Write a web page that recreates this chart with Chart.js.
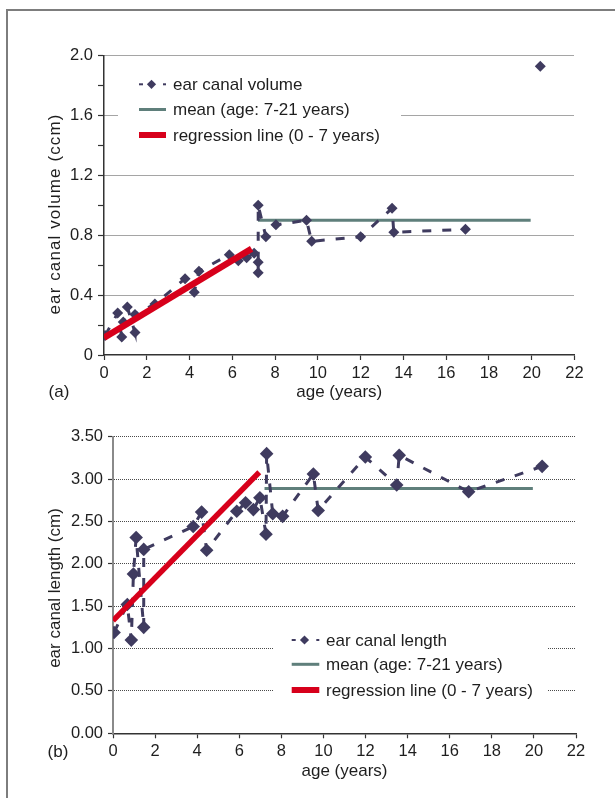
<!DOCTYPE html>
<html><head><meta charset="utf-8">
<script src="https://cdn.jsdelivr.net/npm/chart.js@4"></script>
<style>
html,body{margin:0;padding:0;background:#fff;}
body{width:615px;height:798px;position:relative;overflow:hidden;}
#frame{position:absolute;left:6px;top:8.5px;width:700px;height:900px;border-left:2px solid #7d7d7d;border-top:2px solid #7d7d7d;}
#ca{position:absolute;left:0;top:0;}
#cb{position:absolute;left:0;top:410px;}
</style></head>
<body>
<div id="frame"></div>
<canvas id="ca" width="615" height="405"></canvas>
<canvas id="cb" width="615" height="388"></canvas>
<script>
// ---------- data: chart (a) ear canal volume ----------
const volAge   = [0.05, 0.64, 0.83, 0.90, 1.09, 1.45, 1.45, 2.38, 3.79, 4.22, 4.44, 5.86, 6.28, 6.67, 7.02, 7.21, 7.21, 7.21, 7.57, 8.04, 9.47, 9.71, 12.0, 13.47, 13.55, 16.9];
const volValue = [0.13, 0.28, 0.12, 0.22, 0.32, 0.15, 0.27, 0.34, 0.51, 0.42, 0.56, 0.67, 0.63, 0.65, 0.68, 0.62, 0.55, 1.00, 0.79, 0.87, 0.90, 0.76, 0.79, 0.98, 0.82, 0.84];
const volOutlierAge   = [20.4];
const volOutlierValue = [1.93];
const volMeanAge   = [7.2, 19.95];
const volMeanValue = [0.9, 0.9];
const volRegAge    = [0, 6.9];
const volRegValue  = [0.115, 0.71];

// ---------- data: chart (b) ear canal length ----------
const lenAge   = [0.05, 0.68, 0.87, 0.97, 1.10, 1.46, 1.46, 3.81, 4.21, 4.45, 5.88, 6.30, 6.67, 6.98, 7.27, 7.30, 7.59, 8.06, 9.52, 9.75, 11.99, 13.48, 13.60, 16.9, 20.39];
const lenValue = [1.19, 1.52, 1.10, 1.88, 2.31, 1.25, 2.17, 2.44, 2.61, 2.16, 2.62, 2.72, 2.64, 2.78, 2.35, 3.30, 2.59, 2.56, 3.06, 2.63, 3.26, 2.93, 3.28, 2.85, 3.15];
const lenMeanAge   = [7.2, 19.95];
const lenMeanValue = [2.89, 2.89];
const lenRegAge    = [0, 6.95];
const lenRegValue  = [1.33, 3.08];

// ---------- labels ----------
const xTitle = 'age (years)';
const volTitle = 'ear canal volume (ccm)';
const lenTitle = 'ear canal length (cm)';
const volLabels = ['ear canal volume', 'mean (age: 7-21 years)', 'regression line (0 - 7 years)'];
const lenLabels = ['ear canal length', 'mean (age: 7-21 years)', 'regression line (0 - 7 years)'];
const panelLabels = ['(a)', '(b)'];

const MARK = '#3f3b5f', MEAN = '#5f7f7b', RED = '#d7001b';
const FONT = '"Liberation Sans", Arial, Helvetica, sans-serif';

const pts = (xs, ys) => xs.map((x, i) => ({x: x, y: ys[i]}));

const overlay = {
  id: 'overlay',
  afterDraw(chart, args, o) {
    const ctx = chart.ctx;
    ctx.save();
    ctx.fillStyle = '#fff';
    ctx.fillRect(o.box[0], o.box[1], o.box[2], o.box[3]);
    ctx.font = '17px ' + FONT;
    ctx.fillStyle = '#1e1e1e';
    ctx.textBaseline = 'middle';
    ctx.textAlign = 'left';
    const ds = chart.data.datasets.filter(d => d.legendKind).sort((a, b) => a.legendIndex - b.legendIndex);
    ds.forEach((d, i) => {
      const y = o.rows[i];
      const x0 = o.symX, x1 = o.symX + o.symW;
      if (d.legendKind === 'marker') {
        ctx.strokeStyle = MARK; ctx.lineWidth = 2;
        ctx.beginPath(); ctx.moveTo(x0, y); ctx.lineTo(x0 + 4, y); ctx.stroke();
        ctx.beginPath(); ctx.moveTo(x1 - 3, y); ctx.lineTo(x1, y); ctx.stroke();
        const cx = (x0 + x1) / 2 - 1, r = 4.6;
        ctx.fillStyle = MARK;
        ctx.beginPath(); ctx.moveTo(cx, y - r); ctx.lineTo(cx + r, y); ctx.lineTo(cx, y + r); ctx.lineTo(cx - r, y); ctx.closePath(); ctx.fill();
      } else {
        ctx.strokeStyle = d.borderColor; ctx.lineWidth = d.legendKind === 'red' ? 6 : 3;
        ctx.beginPath(); ctx.moveTo(x0, y); ctx.lineTo(x1, y); ctx.stroke();
      }
      ctx.fillStyle = '#1e1e1e';
      ctx.fillText(d.label, o.textX, y + 1);
    });
    ctx.textAlign = 'center';
    ctx.fillText(o.panel, o.panelX, o.panelY);
    // rotated y-axis title
    ctx.save();
    ctx.translate(o.yTitleX, o.yTitleY);
    ctx.rotate(-Math.PI / 2);
    ctx.font = '17px ' + FONT;
    if ('letterSpacing' in ctx) ctx.letterSpacing = o.yTitleSpacing;
    ctx.textAlign = 'center';
    ctx.textBaseline = 'middle';
    ctx.fillText(o.yTitle, 0, 0);
    ctx.restore();
    ctx.restore();
  }
};

function makeChart(id, cfg) {
  return new Chart(document.getElementById(id), {
    type: 'scatter',
    data: {
      datasets: [
        { label: cfg.labels[2], legendKind: 'red', legendIndex: 2, data: pts(cfg.regAge, cfg.regVal), showLine: true,
          borderColor: RED, borderWidth: cfg.redW, pointRadius: 0, order: 0, borderCapStyle: 'butt' },
        { label: cfg.labels[0], legendKind: 'marker', legendIndex: 0, data: pts(cfg.age, cfg.val), showLine: true,
          borderColor: MARK, borderWidth: 3, borderDash: [9, 11], backgroundColor: MARK,
          pointStyle: 'rectRot', pointRadius: cfg.ptR, pointBorderWidth: 0, pointBackgroundColor: MARK, order: 1, tension: 0 },
        { label: cfg.labels[1], legendKind: 'line', legendIndex: 1, data: pts(cfg.meanAge, cfg.meanVal), showLine: true,
          borderColor: MEAN, borderWidth: 3, pointRadius: 0, order: 2 },
      ].concat(cfg.extra ? [{ label: cfg.labels[0], data: pts(cfg.extra[0], cfg.extra[1]), showLine: false,
          pointStyle: 'rectRot', pointRadius: cfg.ptR, pointBorderWidth: 0, pointBackgroundColor: MARK, order: 1 }] : [])
    },
    options: {
      responsive: false,
      animation: false,
      layout: { padding: cfg.pad },
      plugins: { legend: { display: false }, tooltip: { enabled: false }, overlay: cfg.overlay },
      scales: {
        x: {
          type: 'linear', min: 0, max: 22,
          afterFit: s => { s.height = cfg.xH; },
          ticks: { stepSize: 2, autoSkip: false, maxRotation: 0, padding: cfg.xPad,
                   color: '#1e1e1e', font: { family: FONT, size: 16.5 } },
          grid: { drawOnChartArea: false, drawTicks: true, tickLength: 5, tickColor: '#333', tickWidth: 1.2 },
          border: { color: '#333', width: 1.5 },
          title: { display: true, text: xTitle, color: '#1e1e1e', font: { family: FONT, size: 17 }, padding: { top: 0, bottom: 2 } }
        },
        y: {
          type: 'linear', min: 0, max: cfg.yMax,
          afterFit: s => { s.width = cfg.yW; },
          ticks: { stepSize: cfg.yStep, autoSkip: false, padding: 5, callback: cfg.yLabel,
                   color: '#1e1e1e', font: { family: FONT, size: 16.5 } },
          grid: { drawTicks: true, tickLength: cfg.yTL, tickColor: '#333', tickWidth: 1.2, lineWidth: 1,
                  color: c => (c.tick && cfg.gridOn(c.tick.value)) ? '#4a4a4a' : 'rgba(0,0,0,0)' },
          border: { color: cfg.yBorder, width: cfg.yBorderW, dash: [1, 1] },
          title: { display: false, text: cfg.yTitle }
        }
      }
    },
    plugins: [overlay]
  });
}

makeChart('ca', {
  age: volAge, val: volValue, meanAge: volMeanAge, meanVal: volMeanValue,
  regAge: volRegAge, regVal: volRegValue, extra: [volOutlierAge, volOutlierValue],
  labels: volLabels, yTitle: volTitle, yMax: 2, yStep: 0.2, ptR: 5.5, redW: 6.5,
  yLabel: v => (Math.round(v * 10) % 4 === 0) ? (Math.abs(v) < 1e-9 ? '0' : v.toFixed(1)) : '',
  gridOn: v => v > 0.01 && Math.round(v * 10) % 4 === 0,
  pad: { left: 43, right: 40.5, top: 55.7, bottom: 0 }, yW: 61, xH: 50, xPad: 4, yTL: 6,
  yBorder: '#333', yBorderW: 1.5,
  overlay: { box: [118, 68, 283, 82], rows: [84.3, 109.5, 135], symX: 139, symW: 27, textX: 173,
             panel: panelLabels[0], panelX: 59, panelY: 392.5,
             yTitle: volTitle, yTitleX: 55.5, yTitleY: 214, yTitleSpacing: '1.1px' }
});

makeChart('cb', {
  age: lenAge, val: lenValue, meanAge: lenMeanAge, meanVal: lenMeanValue,
  regAge: lenRegAge, regVal: lenRegValue, extra: null,
  labels: lenLabels, yTitle: lenTitle, yMax: 3.5, yStep: 0.5, ptR: 6.8, redW: 5.5,
  yLabel: v => v.toFixed(2),
  gridOn: v => v > 0.01,
  pad: { left: 40.8, right: 39, top: 26.7, bottom: 14.1 }, yW: 72.2, xH: 50.6, xPad: 3, yTL: 5,
  yBorder: '#8a8a8a', yBorderW: 2,
  overlay: { box: [274, 215, 274, 82], rows: [230, 254.3, 280], symX: 291.7, symW: 27.6, textX: 326,
             panel: panelLabels[1], panelX: 58, panelY: 342,
             yTitle: lenTitle, yTitleX: 55, yTitleY: 178, yTitleSpacing: '0px' }
});
</script>
</body></html>
